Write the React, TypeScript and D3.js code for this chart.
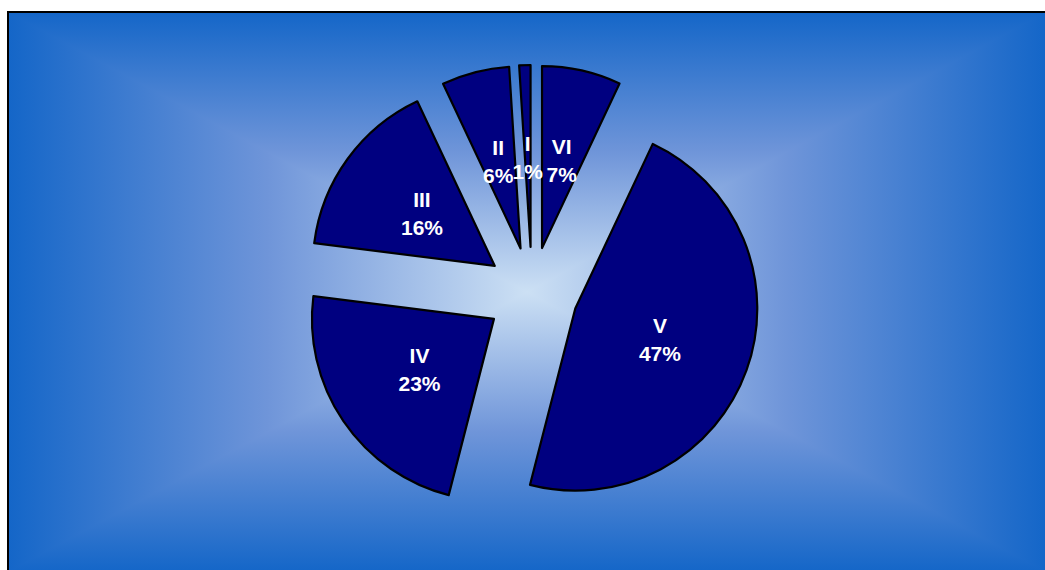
import React from "react";
import * as d3 from "d3";

const categories = ["I", "II", "III", "IV", "V", "VI"];
const values = [1, 6, 16, 23, 47, 7];
const percentLabels = ["1%", "6%", "16%", "23%", "47%", "7%"];

const W = 1045;
const H = 570;
const frame = { x: 8, y: 12, w: 1038, h: 560 };
const gradStops: [number, string][] = [
  [0, "#1466C8"],
  [0.5, "#6F95D9"],
  [1, "#CCE0F4"],
];

function Grad({ id, x1, y1, x2, y2 }: { id: string; x1: number; y1: number; x2: number; y2: number }) {
  return (
    <linearGradient id={id} gradientUnits="userSpaceOnUse" x1={x1} y1={y1} x2={x2} y2={y2}>
      {gradStops.map(([o, c]) => (
        <stop key={o} offset={o} stopColor={c} />
      ))}
    </linearGradient>
  );
}

export default function App() {
  const fcx = frame.x + frame.w / 2;
  const fcy = frame.y + frame.h / 2;
  const x0 = frame.x, x1 = frame.x + frame.w, y0 = frame.y, y1 = frame.y + frame.h;

  const cx = 532;
  const cy = 293;
  const r = 182;
  const explode = 46;

  const pie = d3.pie<number>().sort(null).startAngle(0).endAngle(-2 * Math.PI);
  const arcs = pie(values);
  const arcGen = d3.arc<d3.PieArcDatum<number>>().innerRadius(0).outerRadius(r);

  return (
    <svg width={W} height={H} style={{ position: "absolute", left: 0, top: 0 }}>
      <defs>
        <Grad id="gTop" x1={0} y1={y0} x2={0} y2={fcy} />
        <Grad id="gBottom" x1={0} y1={y1} x2={0} y2={fcy} />
        <Grad id="gLeft" x1={x0} y1={0} x2={fcx} y2={0} />
        <Grad id="gRight" x1={x1} y1={0} x2={fcx} y2={0} />
      </defs>
      <g shapeRendering="crispEdges">
        <polygon points={`${x0},${y0} ${x1},${y0} ${fcx},${fcy}`} fill="url(#gTop)" />
        <polygon points={`${x0},${y1} ${x1},${y1} ${fcx},${fcy}`} fill="url(#gBottom)" />
        <polygon points={`${x0},${y0} ${x0},${y1} ${fcx},${fcy}`} fill="url(#gLeft)" />
        <polygon points={`${x1},${y0} ${x1},${y1} ${fcx},${fcy}`} fill="url(#gRight)" />
      </g>
      <rect x={frame.x} y={frame.y} width={frame.w} height={frame.h} fill="none" stroke="#000" strokeWidth={2} />
      {arcs.map((a, i) => {
        const mid = (a.startAngle + a.endAngle) / 2;
        const dx = Math.sin(mid);
        const dy = -Math.cos(mid);
        const ox = cx + dx * explode;
        const oy = cy + dy * explode;
        return (
          <path
            key={categories[i]}
            d={arcGen(a) || ""}
            transform={`translate(${ox},${oy})`}
            fill="#000080"
            stroke="#000"
            strokeWidth={2.2}
            strokeLinejoin="round"
          />
        );
      })}
      {arcs.map((a, i) => {
        const mid = (a.startAngle + a.endAngle) / 2;
        const dx = Math.sin(mid);
        const dy = -Math.cos(mid);
        const lx = cx + dx * (explode + 90);
        const ly = cy + dy * (explode + 90);
        return (
          <text
            key={"t" + categories[i]}
            textAnchor="middle"
            fill="#fff"
            fontFamily="Liberation Sans, Arial, sans-serif"
            fontWeight="bold"
            fontSize={21}
          >
            <tspan x={lx} y={ly - 14 + 7.5}>{categories[i]}</tspan>
            <tspan x={lx} y={ly + 14 + 7.5}>{percentLabels[i]}</tspan>
          </text>
        );
      })}
    </svg>
  );
}
